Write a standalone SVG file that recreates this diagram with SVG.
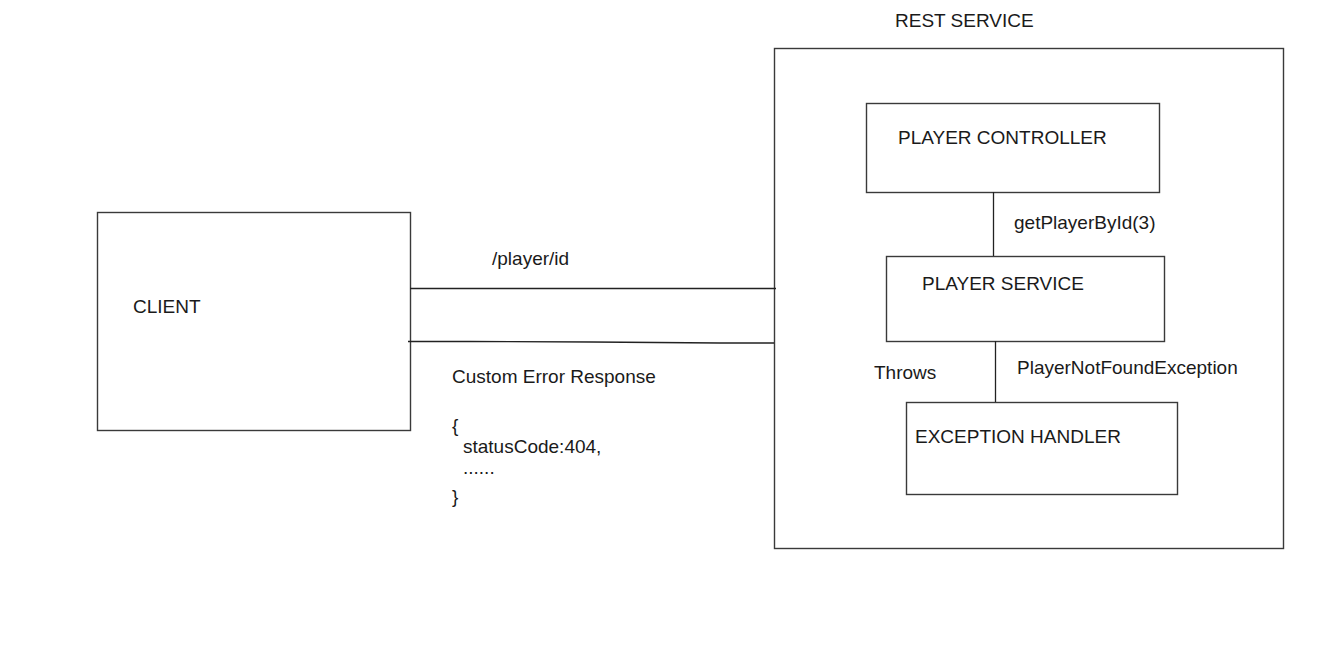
<svg xmlns="http://www.w3.org/2000/svg" width="1332" height="645" viewBox="0 0 1332 645">
<style>
.box{fill:#ffffff;stroke:#3a3a3a;stroke-width:1.4}
.ln{stroke:#222;stroke-width:1.3;fill:none}
text{font-family:"Liberation Sans",Arial,sans-serif;font-size:19px;fill:#1a1a1a}
</style>
<rect width="1332" height="645" fill="#ffffff"/>
<g id="rest-service">
<rect class="box" x="774.5" y="48.5" width="509" height="500"/>
<text x="895" y="27">REST SERVICE</text>
</g>
<g id="client">
<rect class="box" x="97.5" y="212.5" width="313" height="218"/>
<text x="133" y="313">CLIENT</text>
</g>
<g id="player-controller">
<rect class="box" x="866.5" y="103.5" width="293" height="89"/>
<text x="898" y="144">PLAYER CONTROLLER</text>
</g>
<g id="player-service">
<rect class="box" x="886.5" y="256.5" width="278" height="85"/>
<text x="922" y="290">PLAYER SERVICE</text>
</g>
<g id="exception-handler">
<rect class="box" x="906.5" y="402.5" width="271" height="92"/>
<text x="915" y="443">EXCEPTION HANDLER</text>
</g>
<g id="connectors">
<line class="ln" x1="410" y1="288.5" x2="776" y2="288.5"/>
<polyline class="ln" points="408,341.5 470,341.5 592,342 720,343 774,343"/>
<line class="ln" x1="993.5" y1="192" x2="993.5" y2="256"/>
<line class="ln" x1="995.5" y1="341" x2="995.5" y2="402"/>
</g>
<g id="labels">
<text x="492" y="265">/player/id</text>
<text x="452" y="383">Custom Error Response</text>
<text x="452" y="432">{</text>
<text x="463" y="453">statusCode:404,</text>
<text x="463" y="474">......</text>
<text x="452" y="503">}</text>
<text x="1014" y="229">getPlayerById(3)</text>
<text x="874" y="379">Throws</text>
<text x="1017" y="374">PlayerNotFoundException</text>
</g>
</svg>
